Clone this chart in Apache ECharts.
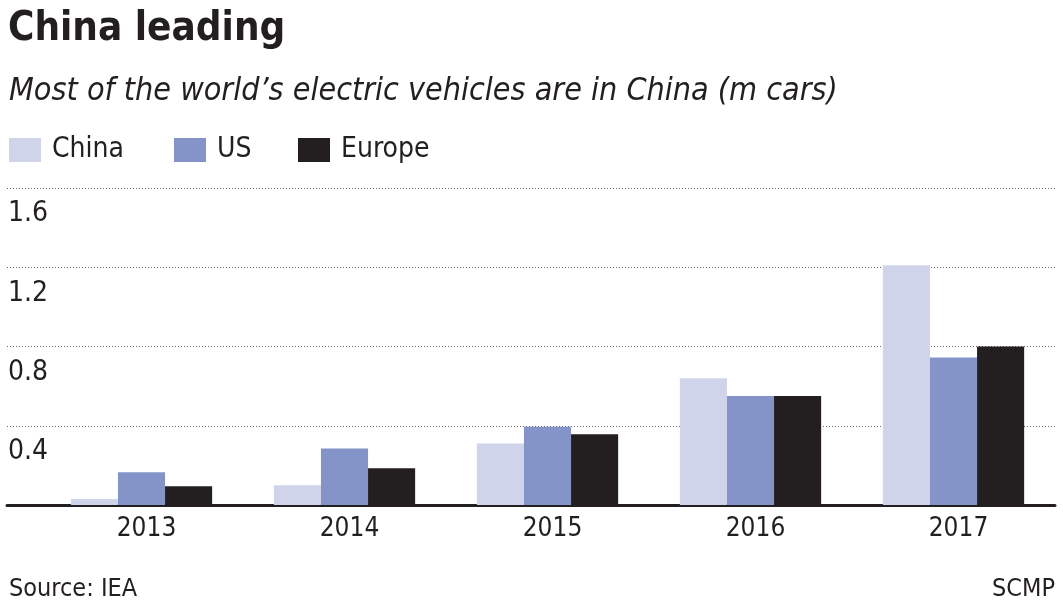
<!DOCTYPE html>
<html>
<head>
<meta charset="utf-8">
<script src="https://cdn.jsdelivr.net/npm/echarts@6/dist/echarts.min.js"></script>
<style>
html,body{margin:0;padding:0;background:#fff;}
#c{width:1063px;height:606px;}
</style>
</head>
<body>
<div id="c"></div>
<script>
const categories = ['2013', '2014', '2015', '2016', '2017'];
const seriesNames = ['China', 'US', 'Europe'];
const chinaValues = [0.03, 0.10, 0.31, 0.64, 1.21];
const usValues = [0.165, 0.285, 0.395, 0.55, 0.745];
const europeValues = [0.095, 0.185, 0.357, 0.55, 0.80];
const yTickLabels = ['', '0.4', '0.8', '1.2', '1.6'];

const FONT = "'Liberation Sans Narrow', 'DejaVu Sans Condensed', 'Open Sans', sans-serif";
const INK = '#231f20';
const colors = ['#d0d4ea', '#8494c8', '#231f20'];
const values = [chinaValues, usValues, europeValues];

const chart = echarts.init(document.getElementById('c'), null, {renderer: 'canvas'});
const gridTop = 188, gridBottom = 101;

chart.setOption({
  animation: false,
  backgroundColor: '#fff',
  title: [
    {text: 'China leading', left: 3, top: 5,
     textStyle: {fontFamily: FONT, fontWeight: 'bold', fontSize: 40, color: INK}},
    {text: 'Most of the world\u2019s electric vehicles are in China (m cars)', left: 4, top: 71,
     textStyle: {fontFamily: FONT, fontStyle: 'italic', fontWeight: 'normal', fontSize: 32, color: INK}},
    {text: 'Source: IEA', left: 4, top: 572,
     textStyle: {fontFamily: FONT, fontWeight: 'normal', fontSize: 25, color: INK}},
    {text: 'SCMP', right: 3, top: 572,
     textStyle: {fontFamily: FONT, fontWeight: 'normal', fontSize: 25, color: INK}}
  ],
  legend: seriesNames.map((n, i) => ({
    data: [n], left: [9, 174, 298][i], top: 136,
    itemWidth: 32, itemHeight: 24, itemGap: 0, icon: 'rect',
    selectedMode: false, padding: 0,
    textStyle: {fontFamily: FONT, fontSize: 28, color: INK, padding: [0, 0, 0, 6]}
  })),
  grid: [
    {left: 40, right: 8, top: gridTop, bottom: gridBottom},
    {left: 7, right: 8, top: gridTop, bottom: gridBottom}
  ],
  xAxis: [
    {type: 'category', gridIndex: 0, data: categories,
     axisLine: {show: false}, axisTick: {show: false},
     axisLabel: {fontFamily: FONT, fontSize: 26, color: INK, margin: 11, padding: [0, 0, 0, 10]}},
    {type: 'value', gridIndex: 1, min: 0, max: 1,
     axisLine: {show: true, lineStyle: {color: INK, width: 3}},
     axisTick: {show: false}, axisLabel: {show: false}, splitLine: {show: false}}
  ],
  yAxis: [
    {type: 'value', gridIndex: 0, min: 0, max: 1.6, interval: 0.4,
     axisLine: {show: false}, axisTick: {show: false}, axisLabel: {show: false},
     splitLine: {show: false}},
    {type: 'value', gridIndex: 1, min: 0, max: 1.6, interval: 0.4,
     axisLine: {show: false}, axisTick: {show: false},
     axisLabel: {inside: true, margin: 1, verticalAlign: 'top', padding: [12, 0, 0, 0],
       fontFamily: FONT, fontSize: 28, color: INK,
       formatter: (v) => yTickLabels[Math.round(v / 0.4)]},
     splitLine: {show: true, lineStyle: {color: '#666', width: 1, type: [1, 2]}}}
  ],
  series: seriesNames.map((n, i) => ({
    name: n, type: 'bar', xAxisIndex: 0, yAxisIndex: 0,
    data: values[i], barWidth: '23.2%', barGap: '0%',
    itemStyle: {color: colors[i]}, z: 5
  }))
});
</script>
</body>
</html>
